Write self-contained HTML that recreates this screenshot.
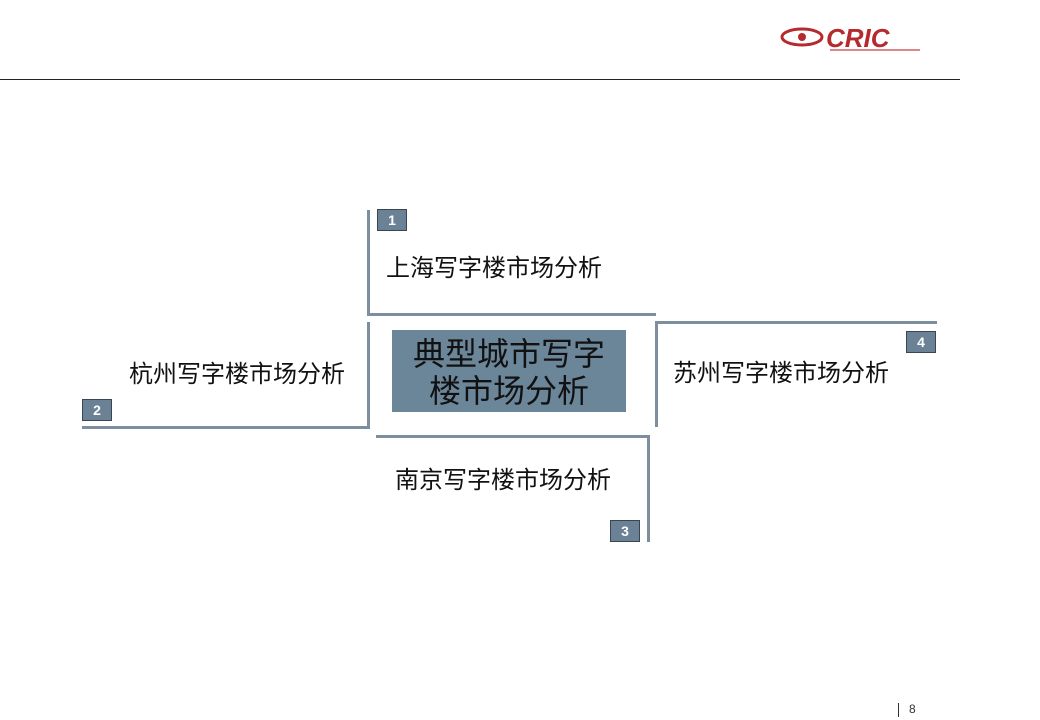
<!DOCTYPE html>
<html><head><meta charset="utf-8"><style>
body{margin:0;width:1040px;height:720px;background:#fff;position:relative;overflow:hidden;font-family:"Liberation Sans","Noto Sans CJK SC",sans-serif}
.a{position:absolute}
.l{position:absolute;background:#7d8f9e}
.b{position:absolute;width:28px;height:20px;background:#6b8296;border:1px solid #3a4550;color:#fff;font-weight:bold;font-size:14px;text-align:center;line-height:21px}
.t{position:absolute;font-size:24px;line-height:28px;color:#111;white-space:nowrap}
</style></head><body>
<div class="a" style="left:0;top:79px;width:960px;height:1px;background:#222"></div>
<div class="a" style="left:780px;top:25px;width:150px;height:30px">
<svg width="150" height="30"><ellipse cx="22" cy="12" rx="20" ry="8" fill="none" stroke="#b52a2e" stroke-width="3"/><circle cx="22" cy="12" r="4" fill="#b52a2e"/><text x="46" y="22" font-family="Liberation Sans" font-weight="bold" font-style="italic" font-size="26" fill="#b52a2e">CRIC</text><rect x="50" y="24" width="90" height="2" fill="#d88"/></svg></div>
<div class="l" style="left:367px;top:210px;width:3px;height:106px"></div>
<div class="l" style="left:367px;top:313px;width:289px;height:3px"></div>
<div class="b" style="left:377px;top:209px">1</div>
<div class="t" style="left:386px;top:255px">上海写字楼市场分析</div>
<div class="l" style="left:367px;top:322px;width:3px;height:107px"></div>
<div class="l" style="left:82px;top:426px;width:288px;height:3px"></div>
<div class="b" style="left:82px;top:399px">2</div>
<div class="t" style="left:129px;top:361px">杭州写字楼市场分析</div>
<div class="l" style="left:376px;top:435px;width:274px;height:3px"></div>
<div class="l" style="left:647px;top:435px;width:3px;height:107px"></div>
<div class="b" style="left:610px;top:520px">3</div>
<div class="t" style="left:395px;top:467px">南京写字楼市场分析</div>
<div class="l" style="left:655px;top:321px;width:282px;height:3px"></div>
<div class="l" style="left:655px;top:321px;width:3px;height:106px"></div>
<div class="b" style="left:906px;top:331px">4</div>
<div class="t" style="left:673px;top:360px">苏州写字楼市场分析</div>
<div class="a" style="left:392px;top:330px;width:234px;height:82px;background:#6b8599;color:#111;font-size:32px;line-height:37px;text-align:center;padding-top:6px;box-sizing:border-box">典型城市写字<br>楼市场分析</div>
<div class="a" style="left:898px;top:703px;width:1px;height:14px;background:#333"></div>
<div class="a" style="left:909px;top:702px;font-size:12px;color:#333">8</div>
</body></html>
